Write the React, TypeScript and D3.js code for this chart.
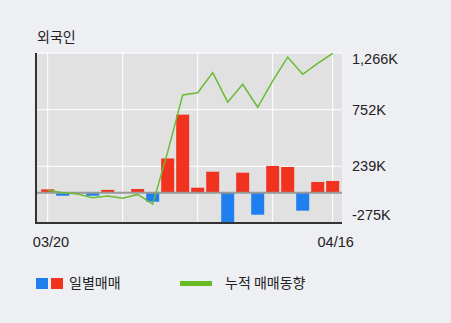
import React from "react";
import * as d3 from "d3";

const dates = ["03/20","03/21","03/22","03/25","03/26","03/27","03/28","03/29","04/01","04/02","04/03","04/04","04/05","04/08","04/09","04/10","04/11","04/12","04/15","04/16"];
const daily = [30, -28, 0, -28, 25, 0, 33, -82, 310, 707, 45, 190, -266, 181, -200, 242, 233, -163, 97, 106];
const cumulative = [22, 0, -13, -45, -30, -50, -16, -104, 370, 886, 906, 1088, 820, 983, 774, 1013, 1228, 1073, 1171, 1263];
const yTicks = [1266, 752, 239, -275];
const yTickLabels = ["1,266K", "752K", "239K", "-275K"];
const xLabelIdx = [0, 19];
const vGridIdx = [0, 5, 10, 15, 19];
const title = "외국인";
const legendDaily = "일별매매";
const legendCum = "누적 매매동향";

const W = 451, H = 323;
const plot = { left: 36, right: 342, top: 53, bottom: 223 };
const RED = "#f0321e";
const BLUE = "#1f7fee";
const GREEN = "#6abb35";
const KR = "'Noto Sans CJK KR', 'Noto Sans', sans-serif";
const NUM = "'Liberation Sans', Arial, sans-serif";

export default function App() {
  const x = d3.scalePoint<string>().domain(dates).range([47.7, 332.7]);
  const y = d3.scaleLinear().domain([-275, 1266]).range([plot.bottom, plot.top]);
  const bw = 13;
  const line = d3.line<number>().x((_, i) => x(dates[i])!).y((v) => y(v));
  return (
    <svg width={W} height={H} style={{ position: "absolute", left: 0, top: 0, background: "#eeeff3" }}>
      <rect x={0} y={0} width={W} height={H} fill="#eeeff3" />
      <text x={37} y={42} fontFamily={KR} fontSize={14} fill="#222">{title}</text>
      <rect x={plot.left} y={plot.top} width={plot.right - plot.left} height={plot.bottom - plot.top} fill="#e1e1e1" />
      {yTicks.map((t) => (
        <line key={t} x1={plot.left} x2={plot.right} y1={y(t)} y2={y(t)} stroke="#fff" strokeWidth={1} />
      ))}
      {vGridIdx.map((i) => (
        <line key={i} x1={x(dates[i])} x2={x(dates[i])} y1={plot.top} y2={plot.bottom} stroke="#fff" strokeWidth={1} />
      ))}
      {daily.map((v, i) => (
        v === 0 ? null :
        <rect key={i} x={x(dates[i])! - bw / 2} width={bw}
          y={Math.min(y(v), y(0))} height={Math.abs(y(v) - y(0))}
          fill={v >= 0 ? RED : BLUE} />
      ))}
      <line x1={plot.left} x2={plot.right} y1={y(0)} y2={y(0)} stroke="#999" strokeWidth={2} />
      <path d={line(cumulative)!} fill="none" stroke={GREEN} strokeWidth={1.5} />
      <line x1={plot.left} x2={plot.left} y1={plot.top} y2={plot.bottom + 1} stroke="#333" strokeWidth={2} />
      <line x1={plot.left} x2={plot.right} y1={plot.bottom} y2={plot.bottom} stroke="#333" strokeWidth={2} />
      {yTicks.map((t, i) => (
        <text key={t} x={352} y={Math.max(59, Math.min(215, y(t)))} dy="0.35em" fontFamily={NUM} fontSize={14.5} fill="#222">{yTickLabels[i]}</text>
      ))}
      {xLabelIdx.map((i) => (
        <text key={i} x={Math.max(51, x(dates[i])!) + (i === 19 ? 3 : 0)} y={242} dy="0.35em" textAnchor="middle" fontFamily={NUM} fontSize={14.5} fill="#222">{dates[i]}</text>
      ))}
      <rect x={36} y={278} width={12} height={11} fill={BLUE} />
      <rect x={51} y={278} width={12} height={11} fill={RED} />
      <text x={69} y={283.5} dy="0.35em" fontFamily={KR} fontSize={14} fill="#222">{legendDaily}</text>
      <line x1={180} x2={212} y1={283.5} y2={283.5} stroke="#66bb22" strokeWidth={5} />
      <text x={225} y={283.5} dy="0.35em" fontFamily={KR} fontSize={14} fill="#222">{legendCum}</text>
    </svg>
  );
}
